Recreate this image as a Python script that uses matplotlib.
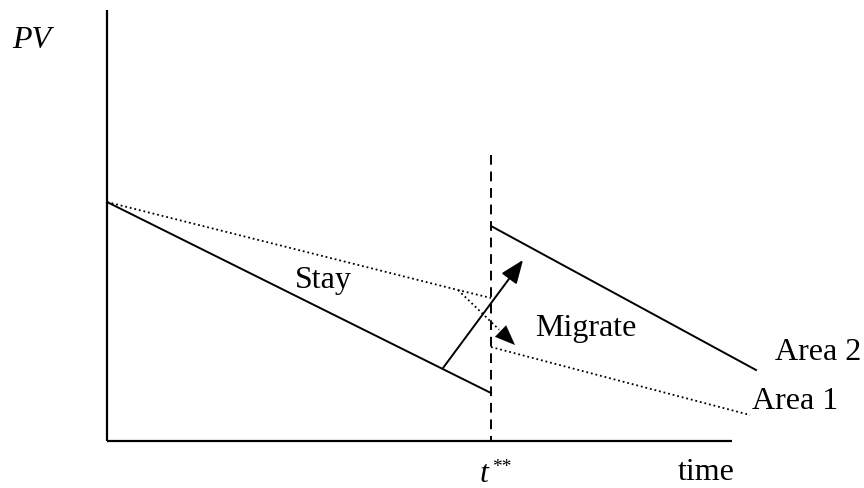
import matplotlib
matplotlib.use("Agg")
import matplotlib.pyplot as plt

# Diagram coordinates (figure units, y downward)
axis_origin = (107, 441)
axis_top_y = 10
axis_right_x = 732
t_star_x = 491
dash_top_y = 155

stay_x = [107, 491]
stay_y = [202, 393]

area1_upper_x = [107, 458, 491]
area1_upper_y = [202, 290, 298]
area1_lower_x = [491, 750]
area1_lower_y = [347, 415]

area2_x = [491, 756]
area2_y = [226, 370]

migrate_arrow_start = (443, 368)
migrate_arrow_end = (523, 260)
dotted_arrow_start = (458, 290)
dotted_arrow_end = (515, 345)

fig = plt.figure(figsize=(8.64, 4.88), dpi=100)
ax = fig.add_axes([0, 0, 1, 1])
ax.set_xlim(0, 864)
ax.set_ylim(488, 0)
ax.axis("off")

serif = ["Liberation Serif", "DejaVu Serif"]
fs = 23

# axes
ax.plot([axis_origin[0], axis_origin[0]], [axis_top_y, axis_origin[1]], color="black", lw=1.6, solid_capstyle="butt")
ax.plot([axis_origin[0], axis_right_x], [axis_origin[1], axis_origin[1]], color="black", lw=1.6, solid_capstyle="butt")

# dashed t**
ax.plot([t_star_x, t_star_x], [dash_top_y, axis_origin[1]], color="black", lw=1.4, linestyle=(0, (5, 3.5)))

# stay line
ax.plot(stay_x, stay_y, color="black", lw=1.4)
# area 2
ax.plot(area2_x, area2_y, color="black", lw=1.4)
# area 1 dotted
ax.plot(area1_upper_x, area1_upper_y, color="black", lw=1.3, linestyle=(0, (1, 1.6)))
ax.plot(area1_lower_x, area1_lower_y, color="black", lw=1.3, linestyle=(0, (1, 1.6)))

head = "-|>,head_length=0.55,head_width=0.22"
# migrate arrow (solid)
ax.annotate("", xy=migrate_arrow_end, xytext=migrate_arrow_start,
            arrowprops=dict(arrowstyle=head, color="black", lw=1.4, mutation_scale=26,
                            shrinkA=0, shrinkB=0))
# dotted arrow
dx = dotted_arrow_end[0] - dotted_arrow_start[0]
dy = dotted_arrow_end[1] - dotted_arrow_start[1]
mid = (dotted_arrow_start[0] + 0.72 * dx, dotted_arrow_start[1] + 0.72 * dy)
ax.plot([dotted_arrow_start[0], mid[0]], [dotted_arrow_start[1], mid[1]], color="black", lw=1.3,
        linestyle=(0, (1, 1.6)))
ax.annotate("", xy=dotted_arrow_end, xytext=mid,
            arrowprops=dict(arrowstyle=head, color="black", lw=0.1, mutation_scale=26,
                            shrinkA=0, shrinkB=0))

# labels
ax.text(12, 48, "PV", fontsize=fs, family=serif, style="italic", va="baseline", ha="left")
ax.text(323, 288, "Stay", fontsize=fs, family=serif, va="baseline", ha="center")
ax.text(535, 336, "Migrate", fontsize=fs, family=serif, va="baseline", ha="left")
ax.text(775, 360, "Area 2", fontsize=fs, family=serif, va="baseline", ha="left")
ax.text(752, 409, "Area 1", fontsize=fs, family=serif, va="baseline", ha="left")
ax.text(480, 482, "t", fontsize=fs, family=serif, style="italic", va="baseline", ha="left")
ax.text(492, 472, "**", fontsize=14, family=serif, va="baseline", ha="left")
ax.text(678, 480, "time", fontsize=fs, family=serif, va="baseline", ha="left")

fig.savefig("out.png", dpi=100)
